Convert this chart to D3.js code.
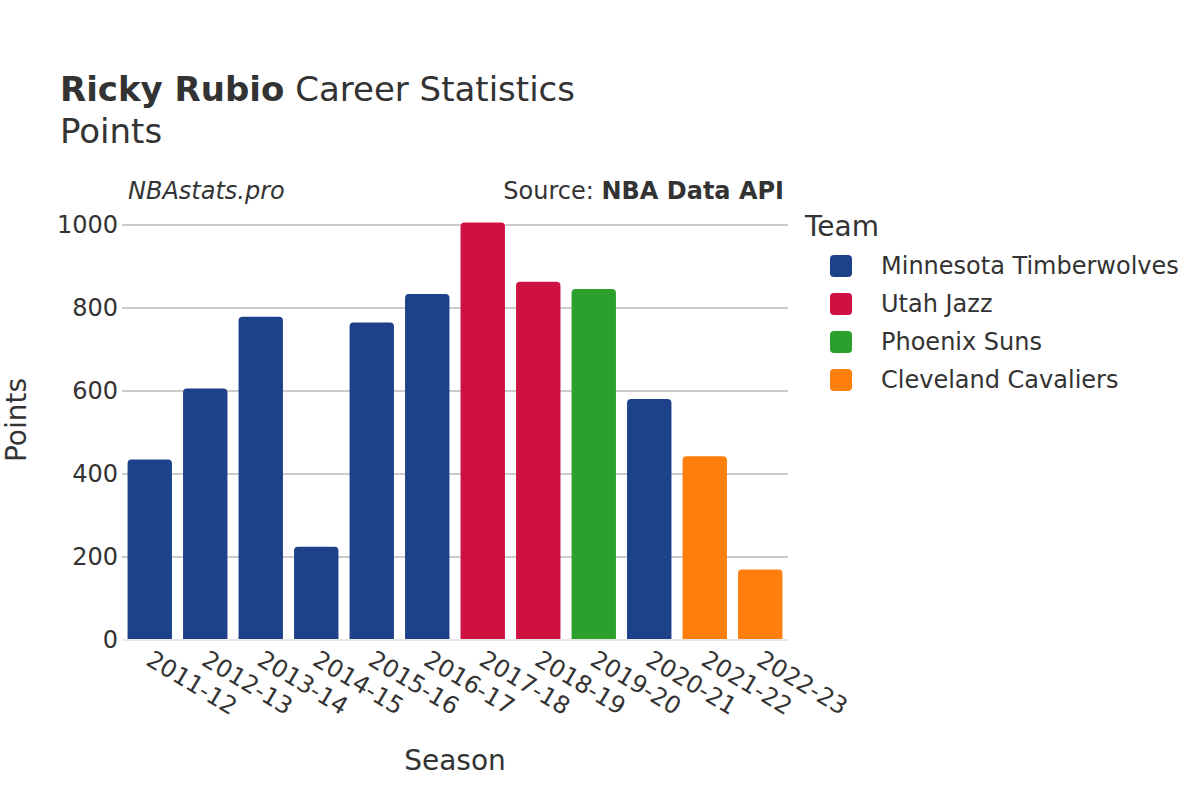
<!DOCTYPE html>
<html>
<head>
<meta charset="utf-8">
<script src="https://cdn.jsdelivr.net/npm/d3@7"></script>
<style>
  body { margin: 0; background: #fff; }
  svg { font-family: "DejaVu Sans", sans-serif; }
</style>
</head>
<body>
<svg id="chart" width="1200" height="800"></svg>
<script>
// data
const seasons = ["2011-12", "2012-13", "2013-14", "2014-15", "2015-16", "2016-17",
                 "2017-18", "2018-19", "2019-20", "2020-21", "2021-22", "2022-23"];
const points = [435, 606, 779, 225, 765, 834, 1006, 863, 846, 581, 443, 170];
const teams = ["Minnesota Timberwolves", "Minnesota Timberwolves", "Minnesota Timberwolves",
               "Minnesota Timberwolves", "Minnesota Timberwolves", "Minnesota Timberwolves",
               "Utah Jazz", "Utah Jazz", "Phoenix Suns", "Minnesota Timberwolves",
               "Cleveland Cavaliers", "Cleveland Cavaliers"];
const teamNames = ["Minnesota Timberwolves", "Utah Jazz", "Phoenix Suns", "Cleveland Cavaliers"];
const teamColors = ["#1d428a", "#ce1141", "#2ca02c", "#ff7f0e"];
const yTicks = [0, 200, 400, 600, 800, 1000];

const margin = { top: 225, left: 122, right: 412, bottom: 160 };
const width = 1200, height = 800;
const innerW = width - margin.left - margin.right;   // 666
const innerH = height - margin.top - margin.bottom;  // 415

const svg = d3.select("#chart");
const textColor = "#333";

const x = d3.scaleBand().domain(seasons).range([0, innerW]).paddingInner(0.2).paddingOuter(0.1);
const y = d3.scaleLinear().domain([0, 1000]).range([innerH, 0]);
const color = d3.scaleOrdinal().domain(teamNames).range(teamColors);

const g = svg.append("g").attr("transform", `translate(${margin.left},${margin.top})`);

// grid
g.selectAll(".grid").data(yTicks.filter(d => d > 0)).join("line")
  .attr("x1", 0).attr("x2", innerW)
  .attr("y1", d => y(d)).attr("y2", d => y(d))
  .attr("stroke", "#999").attr("stroke-width", 1);

// bars
const rows = seasons.map((s, i) => ({ season: s, value: points[i], team: teams[i] }));
const r = 4;
g.selectAll(".bar").data(rows).join("path")
  .attr("fill", d => color(d.team))
  .attr("d", d => {
    const x0 = x(d.season), w = x.bandwidth(), y0 = y(d.value), y1 = y(0);
    return `M${x0},${y1} V${y0 + r} Q${x0},${y0} ${x0 + r},${y0} H${x0 + w - r} Q${x0 + w},${y0} ${x0 + w},${y0 + r} V${y1} Z`;
  });

// zero line
g.append("line").attr("x1", 0).attr("x2", innerW)
  .attr("y1", y(0)).attr("y2", y(0))
  .attr("stroke", "#e8e8e8").attr("stroke-width", 2);

// y axis
const yAxis = g.append("g").call(d3.axisLeft(y).tickValues(yTicks).tickFormat(d3.format("d")).tickSize(0).tickPadding(4));
yAxis.select(".domain").remove();
yAxis.selectAll("text").attr("font-size", 24).attr("fill", textColor).attr("font-family", "DejaVu Sans");

// x axis
const xAxis = g.append("g").attr("transform", `translate(0,${innerH})`)
  .call(d3.axisBottom(x).tickSize(0));
xAxis.select(".domain").remove();
xAxis.selectAll("text")
  .attr("font-size", 24).attr("fill", textColor).attr("font-family", "DejaVu Sans")
  .attr("text-anchor", "start")
  .attr("dy", 0).attr("y", 0)
  .attr("transform", "translate(-5,24) rotate(31)");

// titles
const title = svg.append("text").attr("x", 60).attr("y", 101)
  .attr("font-size", 34).attr("fill", textColor);
title.append("tspan").attr("font-weight", "bold").text("Ricky Rubio");
title.append("tspan").text(" Career Statistics");
svg.append("text").attr("x", 60).attr("y", 143)
  .attr("font-size", 34).attr("fill", textColor).text("Points");

svg.append("text").attr("x", 128).attr("y", 199)
  .attr("font-size", 24).attr("font-style", "italic").attr("fill", textColor).text("NBAstats.pro");
const src = svg.append("text").attr("x", 784).attr("y", 199).attr("text-anchor", "end")
  .attr("font-size", 24).attr("fill", textColor);
src.append("tspan").text("Source: ");
src.append("tspan").attr("font-weight", "bold").text("NBA Data API");

// axis titles
svg.append("text").attr("x", 455).attr("y", 770).attr("text-anchor", "middle")
  .attr("font-size", 28).attr("fill", textColor).text("Season");
svg.append("text").attr("transform", "translate(26,420) rotate(-90)").attr("text-anchor", "middle")
  .attr("font-size", 28).attr("fill", textColor).text("Points");

// legend
const legend = svg.append("g").attr("transform", "translate(805,0)");
legend.append("text").attr("x", 0).attr("y", 236).attr("font-size", 28).attr("fill", textColor).text("Team");
const items = legend.selectAll(".item").data(teamNames).join("g")
  .attr("transform", (d, i) => `translate(0,${266 + i * 38})`);
items.append("rect").attr("x", 25).attr("y", -11).attr("width", 22).attr("height", 22)
  .attr("rx", 4).attr("fill", d => color(d));
items.append("text").attr("x", 76).attr("y", 8).attr("font-size", 24).attr("fill", textColor).text(d => d);
</script>
</body>
</html>
